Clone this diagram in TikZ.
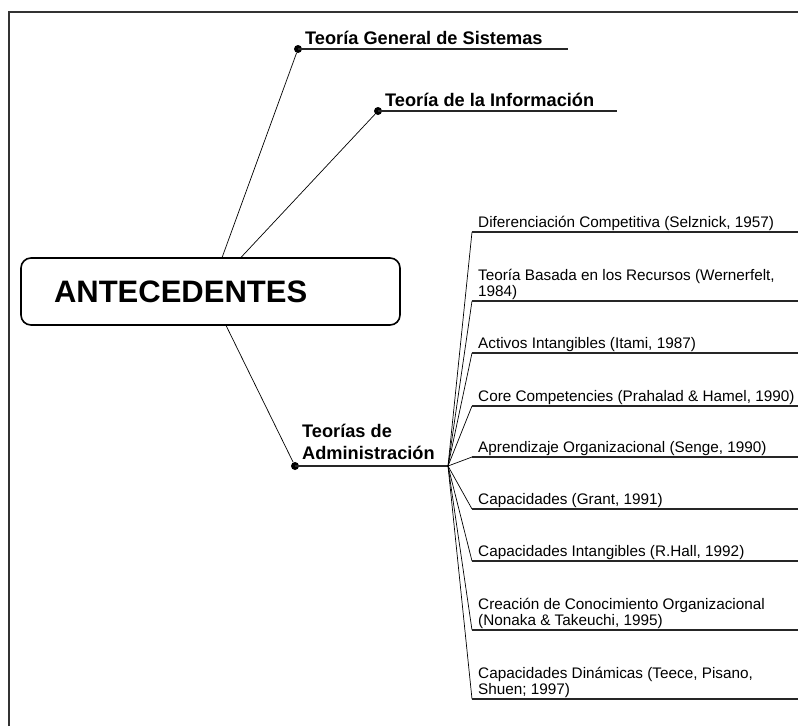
\documentclass[tikz,border=0pt]{standalone}
\usepackage{fontspec}
\setmainfont{Liberation Sans}
\usetikzlibrary{calc,positioning}

\begin{document}
\begin{tikzpicture}[x=1pt,y=-1pt,
    rootbox/.style={draw, line width=1.6pt, rounded corners=10pt, minimum width=379pt,
      minimum height=67pt, text width=313pt, inner xsep=33pt, align=left,
      font=\bfseries\fontsize{31}{36}\selectfont},
    lbl/.style={anchor=base west, inner sep=0pt, align=left, font=\bfseries\fontsize{18.2}{22}\selectfont},
    item/.style={anchor=south west, inner sep=0pt, align=left, font=\fontsize{15.3}{16}\selectfont},
    hubdot/.style={circle, fill=black, inner sep=0pt, minimum size=8pt},
    branch/.style={line width=0.7pt},
    uline/.style={line width=1.3pt, black!85}]
        \useasboundingbox (0,0) rectangle (798,726);
        %%Frame
        \draw[line width=2.2pt, black!80] (9,726) -- (9,12) -- (798,12);
        %%Root
        \node[rootbox] (ante) at (210.5,291.5) {ANTECEDENTES};
        %%Main branches
        \node[hubdot] (gs) at (298,49) {};
        \node[hubdot] (ti) at (378,111) {};
        \node[hubdot] (ta) at (295,466) {};
        \coordinate (gsend) at (568,49);
        \coordinate (tiend) at (617,111);
        \coordinate (hub) at (448,466);
        \node[lbl] (gslbl) at (305,44) {Teoría General de Sistemas};
        \node[lbl] (tilbl) at (385,106) {Teoría de la Información};
        \node[lbl, anchor=south west] (talbl) at (302,460) {Teorías de\\Administración};
        \draw[branch] ($(ante.north west)+(202,0)$) -- (gs);
        \draw[branch] ($(ante.north west)+(221,0)$) -- (ti);
        \draw[branch] ($(ante.south west)+(206,0)$) -- (ta);
        \draw[uline] (gs.center) -- (gsend);
        \draw[uline] (ti.center) -- (tiend);
        \draw[uline] (ta.center) -- (hub);
        %%Management theories
        \foreach \y/\txt [count=\i] in {
            232/{Diferenciación Competitiva (Selznick, 1957)},
            301/{Teoría Basada en los Recursos (Wernerfelt,\\1984)},
            353/{Activos Intangibles (Itami, 1987)},
            406/{Core Competencies (Prahalad \& Hamel, 1990)},
            457/{Aprendizaje Organizacional (Senge, 1990)},
            509/{Capacidades (Grant, 1991)},
            561/{Capacidades Intangibles (R.Hall, 1992)},
            630/{Creación de Conocimiento Organizacional\\(Nonaka \& Takeuchi, 1995)},
            699/{Capacidades Dinámicas (Teece, Pisano,\\Shuen; 1997)}}{
            \coordinate (s\i) at (472,\y);
            \coordinate (e\i) at (798,\y);
            \node[item] (it\i) at (478,\y-1) {\txt};
            \draw[branch] (hub) -- (s\i);
            \draw[uline] (s\i) -- (e\i);
        }
\end{tikzpicture}
\end{document}
